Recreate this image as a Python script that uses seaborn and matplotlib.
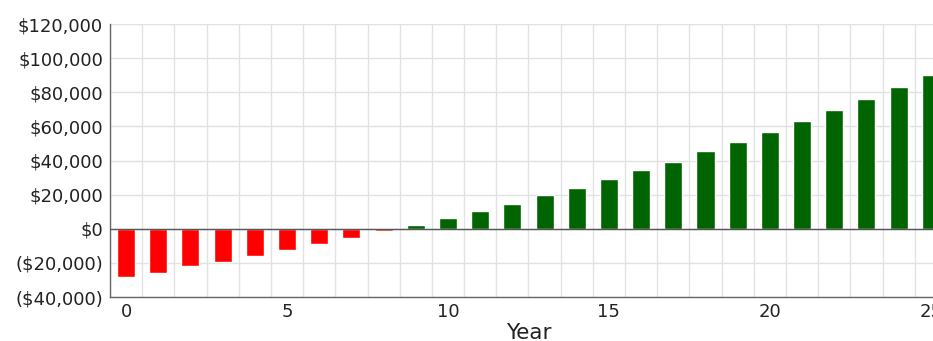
import matplotlib
matplotlib.use("Agg")
import matplotlib.pyplot as plt
from matplotlib.ticker import FuncFormatter, MultipleLocator, FixedLocator
import numpy as np
import pandas as pd
import seaborn as sns

# Cumulative net position by year
years = list(range(26))
net_value = [
    -28300, -25900, -22100, -19500, -15800, -12500, -9000, -5300, -1600,
    2200, 6400, 10300, 14800, 19500, 24000, 29300, 34200, 39400, 45300,
    50900, 56800, 63200, 69700, 75900, 83100, 90000,
]
y_ticks = [-40000, -20000, 0, 20000, 40000, 60000, 80000, 100000, 120000]
x_tick_labels = [0, 5, 10, 15, 20, 25]

df = pd.DataFrame({"Year": years, "Value": net_value})
df["Sign"] = np.where(df["Value"] < 0, "neg", "pos")

sns.set_style("white")
plt.rcParams["font.family"] = ["DejaVu Sans"]

fig = plt.figure(figsize=(9.33, 3.41), dpi=100)
ax = fig.add_axes([0.1179, 0.129, 0.897, 0.8006])

sns.barplot(
    data=df, x="Year", y="Value", hue="Sign",
    palette={"neg": "#ff0000", "pos": "#006400"},
    dodge=False, width=0.56, native_scale=True, legend=False,
    saturation=1, ax=ax, zorder=3,
)

ax.set_xlim(-0.5, 25.5)
ax.set_ylim(-40000, 120000)

# Axis ticks and grid
ax.xaxis.set_major_locator(FixedLocator(x_tick_labels))
ax.xaxis.set_minor_locator(MultipleLocator(1, offset=0.5))
ax.yaxis.set_major_locator(FixedLocator(y_ticks))
ax.yaxis.set_minor_locator(MultipleLocator(10000))


def money(v, pos):
    v = int(round(v))
    if v < 0:
        return f"(${-v:,})"
    return f"${v:,}"


ax.yaxis.set_major_formatter(FuncFormatter(money))

ax.grid(False)
ax.grid(axis="x", which="minor", color="#e2e2e2", lw=1, zorder=0)
ax.grid(axis="y", which="major", color="#e2e2e2", lw=1, zorder=0)
ax.set_axisbelow(True)

ax.tick_params(axis="x", which="major", length=0, labelsize=13,
               labelcolor="#222222", pad=4)
ax.tick_params(axis="x", which="minor", direction="in", length=4,
               color="#666666", width=1)
ax.tick_params(axis="y", which="major", direction="in", length=4,
               color="#666666", width=1, labelsize=13,
               labelcolor="#222222", pad=5)
ax.tick_params(axis="y", which="minor", direction="in", length=3,
               color="#666666", width=1)

for side in ("top", "right"):
    ax.spines[side].set_visible(False)
for side in ("left", "bottom"):
    ax.spines[side].set_color("#666666")
    ax.spines[side].set_linewidth(1)

ax.axhline(0, color="#555555", lw=1, zorder=4)

ax.set_ylabel("")
ax.set_xlabel("Year", fontsize=15.5, color="#222222", labelpad=2)

fig.savefig("out.png", dpi=100)
